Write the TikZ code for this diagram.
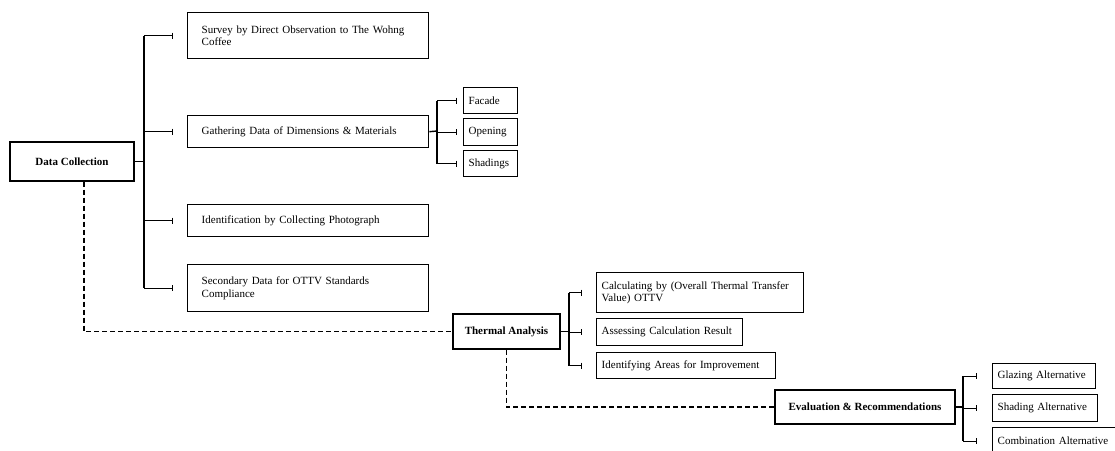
\documentclass[tikz,border=0pt]{standalone}
\usepackage{fontspec}
\setmainfont{Liberation Serif}
\usetikzlibrary{arrows.meta}
\newcommand\diagfont{\fontsize{11}{12.5}\selectfont}
\tikzset{
  mainbox/.style={draw, line width=1.4pt, font=\diagfont\bfseries, align=center},
  leafbox/.style={draw, line width=1.4pt, anchor=north west, align=left, inner xsep=14pt},
  subbox/.style={draw, line width=1.4pt, anchor=north west, align=left, inner xsep=5pt},
  link/.style={line width=1.4pt},
  branch/.style={line width=1.4pt, -{Bar[width=6pt,line width=1.2pt]}},
  flow/.style={line width=1.3pt, dash pattern=on 5pt off 3pt}
}
\begin{document}
\begin{tikzpicture}[x=1pt, y=-1pt, font=\diagfont]
  \useasboundingbox (0,0) rectangle (1115,450);

% main stages
\node[mainbox, minimum width=124, minimum height=39] (dc) at (72,161.5) {Data Collection};
\node[mainbox, minimum width=107, minimum height=35] (ta) at (506.5,331.5) {Thermal Analysis};
\node[mainbox, minimum width=180, minimum height=34] (ev) at (865,407) {Evaluation \& Recommendations};

% data collection leaves
\node[leafbox, text width=213, minimum height=46] (survey) at (187,12) {Survey by Direct Observation to The Wohng\\Coffee};
\node[leafbox, text width=213, minimum height=32] (gather) at (187,115) {Gathering Data of Dimensions \& Materials};
\node[leafbox, text width=213, minimum height=32] (ident) at (187,204) {Identification by Collecting Photograph};
\node[leafbox, text width=213, minimum height=47] (second) at (187,264) {Secondary Data for OTTV Standards\\Compliance};

\node[subbox, text width=44, minimum height=26] (facade) at (463,87) {Facade};
\node[subbox, text width=44, minimum height=27] (opening) at (463,118) {Opening};
\node[subbox, text width=44, minimum height=26] (shading) at (463,150) {Shadings};

% thermal analysis leaves
\node[subbox, text width=197, minimum height=40] (calc) at (596,272) {Calculating by (Overall Thermal Transfer\\Value) OTTV};
\node[subbox, text width=136, minimum height=27] (assess) at (596,318) {Assessing Calculation Result};
\node[subbox, text width=169, minimum height=26] (areas) at (596,352) {Identifying Areas for Improvement};

% evaluation leaves
\node[subbox, text width=93, minimum height=25] (glazing) at (992,363) {Glazing Alternative};
\node[subbox, text width=95, minimum height=27] (shadalt) at (992,394) {Shading Alternative};
\node[subbox, text width=127, minimum height=27] (combo) at (992,427) {Combination Alternative};

% forks
\coordinate (dcfork) at (144,161.5);
\coordinate (gafork) at (437,131);
\coordinate (tafork) at (569,331.5);
\coordinate (evfork) at (963,407);

\draw[link] (dc.east) -- (dcfork);
\draw[link] (dcfork |- survey.west) -- (dcfork |- second.west);
\foreach \t in {survey,gather,ident,second}
  \draw[branch] (dcfork |- \t.west) -- ([xshift=-14pt]\t.west);

\draw[link] (gather.east) -- (gafork);
\draw[link] (gafork |- facade.west) -- (gafork |- shading.west);
\foreach \t in {facade,opening,shading}
  \draw[branch] (gafork |- \t.west) -- ([xshift=-6pt]\t.west);

\draw[link] (ta.east) -- (tafork);
\draw[link] (tafork |- calc.west) -- (tafork |- areas.west);
\foreach \t in {calc,assess,areas}
  \draw[branch] (tafork |- \t.west) -- ([xshift=-14pt]\t.west);

\draw[link] (ev.east) -- (evfork);
\draw[link] (evfork |- glazing.west) -- (evfork |- combo.west);
\foreach \t in {glazing,shadalt,combo}
  \draw[branch] (evfork |- \t.west) -- ([xshift=-15pt]\t.west);

% dashed flow between stages
\draw[flow] ([xshift=12pt]dc.south) |- (ta.west);
\draw[flow] (ta.south) |- (ev.west);
\end{tikzpicture}
\end{document}
